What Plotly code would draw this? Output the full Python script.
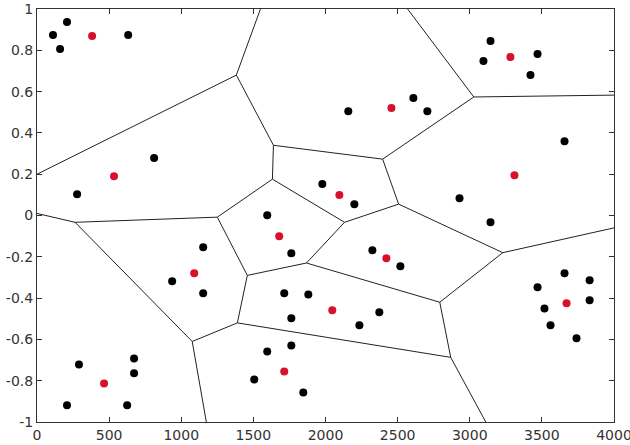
import plotly.graph_objects as go

# Data points (black)
pts_x = [111, 208, 160, 632, 812, 278, 1596, 1978, 2200, 3144, 3095, 3470, 3421,
         2158, 2609, 2706, 3657, 2929, 1152, 937, 1152, 1763, 1714, 1881, 1763,
         1763, 1596, 1506, 1846, 291, 673, 673, 208, 625, 3144, 2325, 2519, 2373,
         2235, 3470, 3657, 3831, 3831, 3518, 3560, 3740]
pts_y = [0.874, 0.937, 0.806, 0.874, 0.278, 0.103, 0.001, 0.152, 0.055, 0.845,
         0.748, 0.782, 0.680, 0.505, 0.569, 0.505, 0.360, 0.084, -0.154, -0.319,
         -0.377, -0.183, -0.377, -0.382, -0.498, -0.629, -0.658, -0.794, -0.857,
         -0.721, -0.692, -0.764, -0.919, -0.919, -0.033, -0.168, -0.246, -0.469,
         -0.532, -0.348, -0.280, -0.314, -0.411, -0.450, -0.532, -0.595]

# Cluster centres (red)
ctr_x = [382, 534, 3282, 2457, 3310, 2096, 1679, 1090, 465, 1714, 2422, 2047, 3671]
ctr_y = [0.869, 0.190, 0.767, 0.520, 0.195, 0.099, -0.101, -0.280, -0.813,
         -0.755, -0.207, -0.459, -0.425]

# Voronoi vertices
vx = [1382, 1549, 0, 1639, 2396, 1632, 1250, 264, 0, 2507, 2132, 1458, 1868,
      1389, 1076, 1174, 2792, 2868, 3111, 3229, 4000, 3028, 4000, 2569]
vy = [0.68, 1.0, 0.20, 0.34, 0.273, 0.176, -0.008, -0.033, 0.01, 0.055, -0.033,
      -0.29, -0.23, -0.52, -0.61, -1.0, -0.42, -0.687, -1.0, -0.18, -0.06,
      0.574, 0.583, 1.0]
# Voronoi edges (pairs of vertex indices)
edges = [(0, 1), (0, 2), (0, 3), (3, 4), (3, 5), (5, 6), (6, 7), (7, 8),
         (5, 10), (4, 9), (9, 10), (10, 12), (6, 11), (11, 12), (11, 13),
         (13, 14), (14, 7), (14, 15), (13, 17), (12, 16), (16, 17), (17, 18),
         (16, 19), (9, 19), (19, 20), (4, 21), (21, 22), (21, 23)]

x_ticks = [0, 500, 1000, 1500, 2000, 2500, 3000, 3500, 4000]
y_ticks = [-1, -0.8, -0.6, -0.4, -0.2, 0, 0.2, 0.4, 0.6, 0.8, 1]
y_labels = ["-1", "-0.8", "-0.6", "-0.4", "-0.2", "0", "0.2", "0.4", "0.6", "0.8", "1"]

ex, ey = [], []
for a, b in edges:
    ex += [vx[a], vx[b], None]
    ey += [vy[a], vy[b], None]

fig = go.Figure()
fig.add_trace(go.Scatter(x=ex, y=ey, mode="lines",
                         line=dict(color="#222222", width=1), hoverinfo="skip"))
fig.add_trace(go.Scatter(x=pts_x, y=pts_y, mode="markers",
                         marker=dict(color="black", size=8)))
fig.add_trace(go.Scatter(x=ctr_x, y=ctr_y, mode="markers",
                         marker=dict(color="#d8102a", size=8)))

axis_common = dict(showgrid=False, zeroline=False, showline=True, linecolor="#333",
                   linewidth=1, mirror="ticks", ticks="inside", ticklen=5,
                   tickcolor="#333", automargin=False, ticklabeloverflow="allow",
                   tickfont=dict(family="DejaVu Sans", size=14, color="#333"))
fig.update_xaxes(range=[0, 4000], tickvals=x_ticks, **axis_common)
fig.update_yaxes(range=[-1, 1], tickvals=y_ticks, ticktext=y_labels, **axis_common)
fig.update_layout(width=630, height=445, showlegend=False,
                  margin=dict(l=37, r=16, t=9, b=23),
                  plot_bgcolor="white", paper_bgcolor="white")
fig.write_html("out.html", config={"displayModeBar": False},
               post_script="document.body.style.margin='0px';document.body.style.overflow='hidden';")
